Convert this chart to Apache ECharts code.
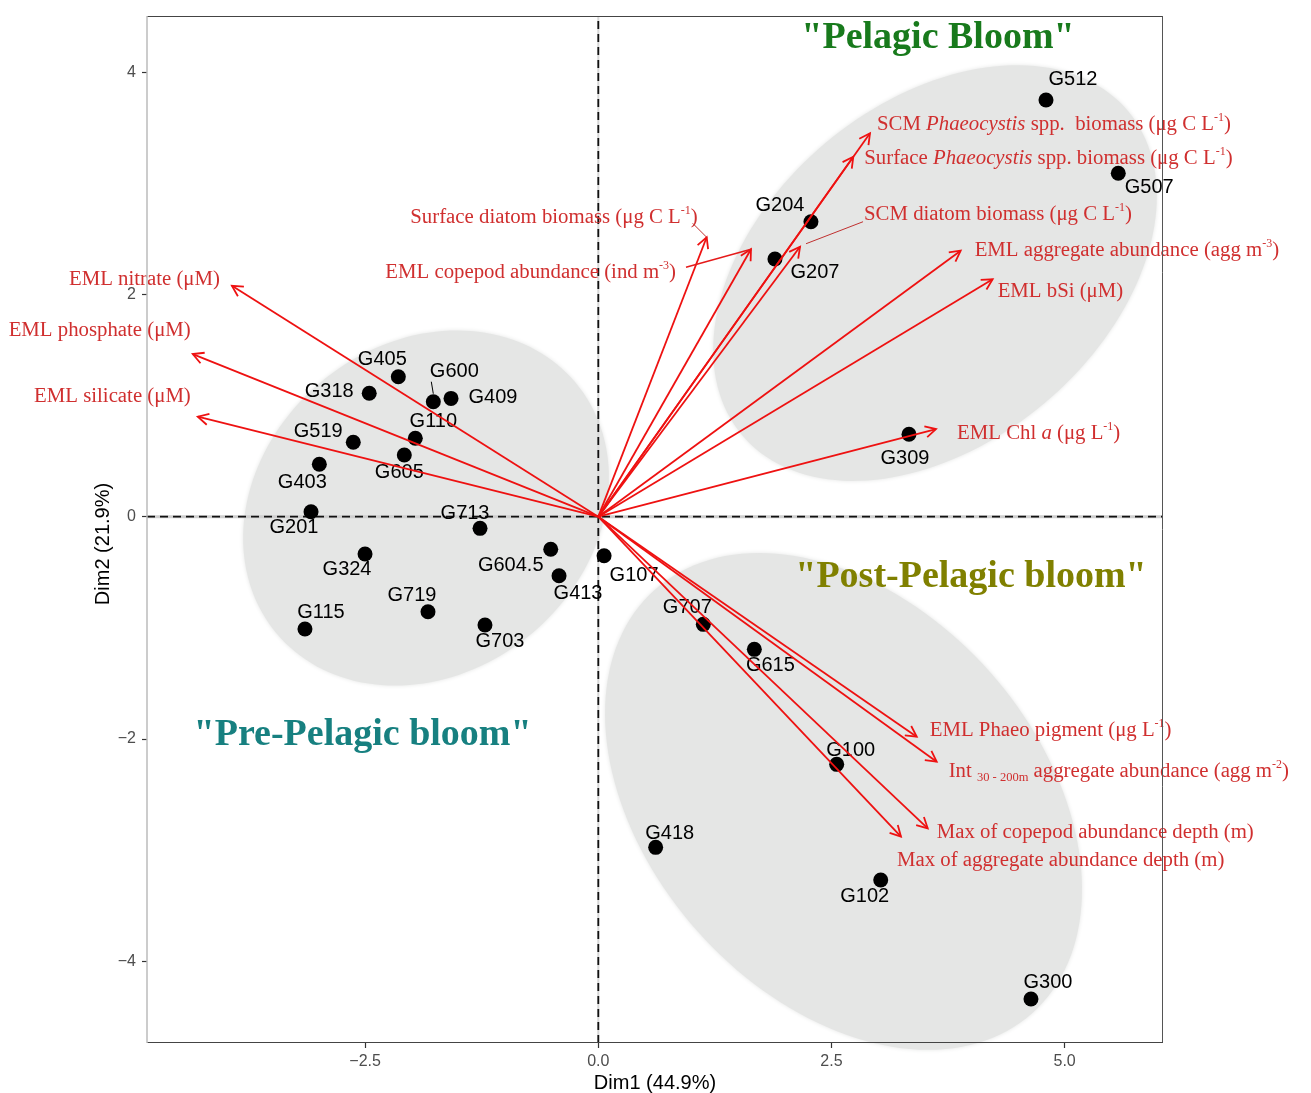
<!DOCTYPE html>
<html><head><meta charset="utf-8">
<script src="https://cdn.jsdelivr.net/npm/echarts@6/dist/echarts.min.js"></script>
<style>html,body{margin:0;padding:0;background:#fff}#c{width:1311px;height:1093px}</style>
</head><body><div id="c"></div>
<script>
// ---------------- data ----------------
const stationNames = ['G405','G318','G600','G409','G110','G519','G605','G403','G201','G713','G324','G604.5','G413','G107','G719','G115','G703','G512','G507','G204','G207','G309','G707','G615','G100','G418','G102','G300'];
const stationDim1 = [-2.144,-2.456,-1.769,-1.579,-1.962,-2.627,-2.080,-2.991,-3.080,-1.268,-2.501,-0.510,-0.421,0.062,-1.826,-3.145,-1.215,4.800,5.575,2.280,1.894,3.331,1.126,1.673,2.556,0.615,3.028,4.639];
const stationDim2 = [1.260,1.111,1.035,1.065,0.706,0.670,0.555,0.472,0.045,-0.105,-0.336,-0.293,-0.531,-0.351,-0.856,-1.011,-0.975,3.751,3.091,2.655,2.320,0.742,-0.969,-1.194,-2.229,-2.976,-3.270,-4.341];

const variableLabels = [
  '{n|EML nitrate (μM)}',
  '{n|EML phosphate (μM)}',
  '{n|EML silicate (μM)}',
  '{n|Surface diatom biomass (μg C L}{s|-1}{n|)}',
  '{n|EML copepod abundance (ind m}{s|-3}{n|)}',
  '{n|SCM }{i|Phaeocystis}{n| spp.  biomass (μg C L}{s|-1}{n|)}',
  '{n|Surface }{i|Phaeocystis}{n| spp. biomass (μg C L}{s|-1}{n|)}',
  '{n|SCM diatom biomass (μg C L}{s|-1}{n|)}',
  '{n|EML aggregate abundance (agg m}{s|-3}{n|)}',
  '{n|EML bSi (μM)}',
  '{n|EML Chl }{i|a}{n| (μg L}{s|-1}{n|)}',
  '{n|EML Phaeo pigment (μg L}{s|-1}{n|)}',
  '{n|Int }{b|30 - 200m}{n| aggregate abundance (agg m}{s|-2}{n|)}',
  '{n|Max of copepod abundance depth (m)}',
  '{n|Max of aggregate abundance depth (m)}'
];
const varDim1 = [-3.928,-4.348,-4.294,1.162,1.637,2.913,2.734,2.163,3.885,4.228,3.621,3.414,3.628,3.532,3.245];
const varDim2 = [2.078,1.464,0.900,2.515,2.407,3.451,3.240,2.430,2.394,2.137,0.789,-1.980,-2.205,-2.805,-2.880];

const groupNames = ['"Pelagic Bloom"','"Pre-Pelagic bloom"','"Post-Pelagic bloom"'];
// ellipse geometry (data units): centre, semi-axis vectors
const ellCx = [3.610,-1.847,2.629];
const ellCy = [2.193,0.078,-2.563];
const ellAx = [2.069,1.602,2.022];
const ellAy = [1.458,1.129,-1.906];
const ellBx = [1.172,1.131,-1.565];
const ellBy = [-1.172,-1.131,-1.169];

const xTicks = [-2.5,0,2.5,5];
const xTickLabels = ['\u22122.5','0.0','2.5','5.0'];
const yTicks = [-4,-2,0,2,4];
const yTickLabels = ['\u22124','\u22122','0','2','4'];
const xTitle = 'Dim1 (44.9%)';
const yTitle = 'Dim2 (21.9%)';

// ---------------- layout (pixels) ----------------
const stationLabelOffset = [[-16,-17],[-40,-2],[21,-30],[42,-1],[18,-17],[-35,-11],[-5,17],[-17,18],[-17,16],[-15,-15],[-18,15],[-40,16],[19,18],[30,20],[-16,-16],[16,-17],[15,16],[27,-20],[31,14],[-31,-16],[40,14],[-4,24],[-16,-17],[16,16],[14,-14],[14,-14],[-16,16],[17,-17]];
const varLabelLayout = [[-12,-6,'right'],[-2,-24,'right'],[-7,-20,'right'],[-9,-20,'right'],[-75,23,'right'],[7,-9,'left'],[11,2,'left'],[64,-32,'left'],[14,0,'left'],[5,12,'left'],[21,4,'left'],[13,-6,'left'],[12,10,'left'],[9,4.5,'left'],[-4,24,'left']];
const leaders = {3:[[-14,-14],[0,0],1,'#c0302f'],4:[[-65,18],[0,0],1.4,'#e51a1a'],7:[[63,-25],[6,-3],1,'#c0302f']};

const SERIF = '"Liberation Serif","Times New Roman",serif';
const SANS = '"Liberation Sans",Arial,Helvetica,sans-serif';
const RED = '#ee1111';
const RED_TEXT = '#d02f2f';
const GREY = '#e5e6e5';
const GRID = {left:147, right:148, top:16, bottom:50};
const X0 = 598.3, SX = 93.27, Y0 = 516.7, SY = 111.1;
const xMin = (GRID.left - X0)/SX, xMax = (1311-GRID.right - X0)/SX;
const yMax = (Y0 - GRID.top)/SY, yMin = (Y0 - (1093-GRID.bottom))/SY;

const FS = 20.8;
const rich = {
  n:{fontFamily:SERIF,fontSize:FS,lineHeight:25,fill:RED_TEXT,color:RED_TEXT},
  i:{fontFamily:SERIF,fontSize:FS,lineHeight:25,fontStyle:'italic',fill:RED_TEXT,color:RED_TEXT},
  s:{fontFamily:SERIF,fontSize:12,lineHeight:12,verticalAlign:'top',fill:RED_TEXT,color:RED_TEXT},
  b:{fontFamily:SERIF,fontSize:12.5,lineHeight:12.5,verticalAlign:'bottom',fill:RED_TEXT,color:RED_TEXT}
};

const chart = echarts.init(document.getElementById('c'));
const option = {
  animation:false,
  backgroundColor:'#fff',
  grid:{left:GRID.left,right:GRID.right,top:GRID.top,bottom:GRID.bottom,show:false},
  xAxis:{type:'value',min:xMin,max:xMax,
    axisLine:{show:false,onZero:false},splitLine:{show:false},
    axisTick:{show:true,length:5,lineStyle:{color:'#333',width:1.2},customValues:xTicks},
    axisLabel:{show:true,customValues:xTicks,margin:11,color:'#4d4d4d',fontSize:16,fontFamily:SANS,
      formatter:v=>{const k=xTicks.findIndex(t=>Math.abs(t-v)<1e-6);return k>=0?xTickLabels[k]:'';}}},
  yAxis:{type:'value',min:yMin,max:yMax,
    axisLine:{show:false,onZero:false},splitLine:{show:false},
    axisTick:{show:true,length:5,lineStyle:{color:'#333',width:1.2},customValues:yTicks},
    axisLabel:{show:true,customValues:yTicks,margin:11,color:'#4d4d4d',fontSize:16,fontFamily:SANS,
      formatter:v=>{const k=yTicks.findIndex(t=>Math.abs(t-v)<1e-6);return k>=0?yTickLabels[k]:'';}}},
  series:[
    { // ellipses
      type:'custom',z:1,silent:true,
      data:ellCx.map((c,i)=>[c,ellCy[i],i]),
      renderItem:(params,api)=>{
        const i=params.dataIndex;const pts=[];
        for(let k=0;k<160;k++){const t=k/160*Math.PI*2;
          pts.push(api.coord([ellCx[i]+ellAx[i]*Math.cos(t)+ellBx[i]*Math.sin(t), ellCy[i]+ellAy[i]*Math.cos(t)+ellBy[i]*Math.sin(t)]));}
        return {type:'polygon',shape:{points:pts},style:{fill:GREY,shadowBlur:4,shadowColor:GREY}};
      }
    },
    { // reference lines at 0
      type:'custom',z:2,silent:true,data:[[0,0]],
      renderItem:(params,api)=>{
        const a=api.coord([xMin,0]),b=api.coord([xMax,0]),c=api.coord([0,yMin]),d=api.coord([0,yMax]);
        return {type:'group',children:[
          {type:'line',shape:{x1:a[0],y1:a[1],x2:b[0],y2:b[1]},style:{stroke:'#cfcfcf',lineWidth:3}},
          {type:'line',shape:{x1:c[0],y1:c[1],x2:d[0],y2:d[1]},style:{stroke:'#d8d8d8',lineWidth:2}},
          {type:'line',shape:{x1:a[0],y1:a[1],x2:b[0],y2:b[1]},style:{stroke:'#111',lineWidth:1.8,lineDash:[8,5]}},
          {type:'line',shape:{x1:c[0],y1:c[1],x2:d[0],y2:d[1]},style:{stroke:'#111',lineWidth:1.8,lineDash:[8,5]}}
        ]};
      }
    },
    { // stations
      type:'custom',z:3,silent:true,
      data:stationDim1.map((x,i)=>[x,stationDim2[i]]),
      renderItem:(params,api)=>{
        const i=params.dataIndex;const p=api.coord([api.value(0),api.value(1)]);
        const o=stationLabelOffset[i];
        const ch=[
          {type:'circle',shape:{cx:p[0],cy:p[1],r:7.5},style:{fill:'#000'}},
          {type:'text',x:p[0]+o[0],y:p[1]+o[1],style:{text:stationNames[i],fontSize:20,fontFamily:SANS,fill:'#000',align:'center',verticalAlign:'middle'}}
        ];
        if(stationNames[i]==='G600'){ch.push({type:'line',shape:{x1:p[0]-2,y1:p[1]-20,x2:p[0],y2:p[1]-8},style:{stroke:'#000',lineWidth:1}});}
        return {type:'group',children:ch};
      }
    },
    { // variable arrows
      type:'custom',z:4,silent:true,
      data:varDim1.map((x,i)=>[x,varDim2[i]]),
      renderItem:(params,api)=>{
        const i=params.dataIndex;
        const o=api.coord([0,0]);const p=api.coord([api.value(0),api.value(1)]);
        const dx=p[0]-o[0],dy=p[1]-o[1],L=Math.hypot(dx,dy),ux=dx/L,uy=dy/L;
        const hl=12,ang=28*Math.PI/180,ca=Math.cos(ang),sa=Math.sin(ang);
        const l1=[p[0]-hl*(ux*ca-uy*sa),p[1]-hl*(uy*ca+ux*sa)];
        const l2=[p[0]-hl*(ux*ca+uy*sa),p[1]-hl*(uy*ca-ux*sa)];
        const lay=varLabelLayout[i];
        const ch=[
          {type:'line',shape:{x1:o[0],y1:o[1],x2:p[0],y2:p[1]},style:{stroke:RED,lineWidth:1.8}},
          {type:'polyline',shape:{points:[l1,p,l2]},style:{stroke:RED,lineWidth:1.8,fill:null}},
          {type:'text',x:p[0]+lay[0],y:p[1]+lay[1],style:{text:variableLabels[i],rich:rich,fontFamily:SERIF,fontSize:FS,fill:RED_TEXT,align:lay[2],verticalAlign:'middle'}}
        ];
        const ld=leaders[i];
        if(ld){ch.push({type:'line',shape:{x1:p[0]+ld[0][0],y1:p[1]+ld[0][1],x2:p[0]+ld[1][0],y2:p[1]+ld[1][1]},style:{stroke:ld[3],lineWidth:ld[2]}});}
        return {type:'group',children:ch};
      }
    }
  ],
  graphic:[
    {type:'text',x:938,y:38.5,z:50,style:{text:groupNames[0],fontFamily:SERIF,fontSize:38,fontWeight:'bold',fill:'#187a1c',align:'center',verticalAlign:'middle'}},
    {type:'text',x:362.6,y:735.3,z:50,style:{text:groupNames[1],fontFamily:SERIF,fontSize:38,fontWeight:'bold',fill:'#178080',align:'center',verticalAlign:'middle'}},
    {type:'text',x:971,y:577,z:50,style:{text:groupNames[2],fontFamily:SERIF,fontSize:38,fontWeight:'bold',fill:'#808000',align:'center',verticalAlign:'middle'}},
    {type:'text',x:655,y:1083,z:50,style:{text:xTitle,fontFamily:SANS,fontSize:20,fill:'#000',align:'center',verticalAlign:'middle'}},
    {type:'text',x:103,y:544,rotation:Math.PI/2,z:50,style:{text:yTitle,fontFamily:SANS,fontSize:20,fill:'#000',align:'center',verticalAlign:'middle'}},
    {type:'line',z:60,shape:{x1:147,y1:16.5,x2:1163,y2:16.5},style:{stroke:'#444',lineWidth:1}},
    {type:'line',z:60,shape:{x1:1162.5,y1:16,x2:1162.5,y2:1043},style:{stroke:'#555',lineWidth:1}},
    {type:'line',z:60,shape:{x1:147,y1:1042.5,x2:1163,y2:1042.5},style:{stroke:'#444',lineWidth:1}},
    {type:'line',z:60,shape:{x1:147,y1:16,x2:147,y2:1043},style:{stroke:'#bbb',lineWidth:1.5}}
  ]
};
chart.setOption(option);
</script></body></html>
